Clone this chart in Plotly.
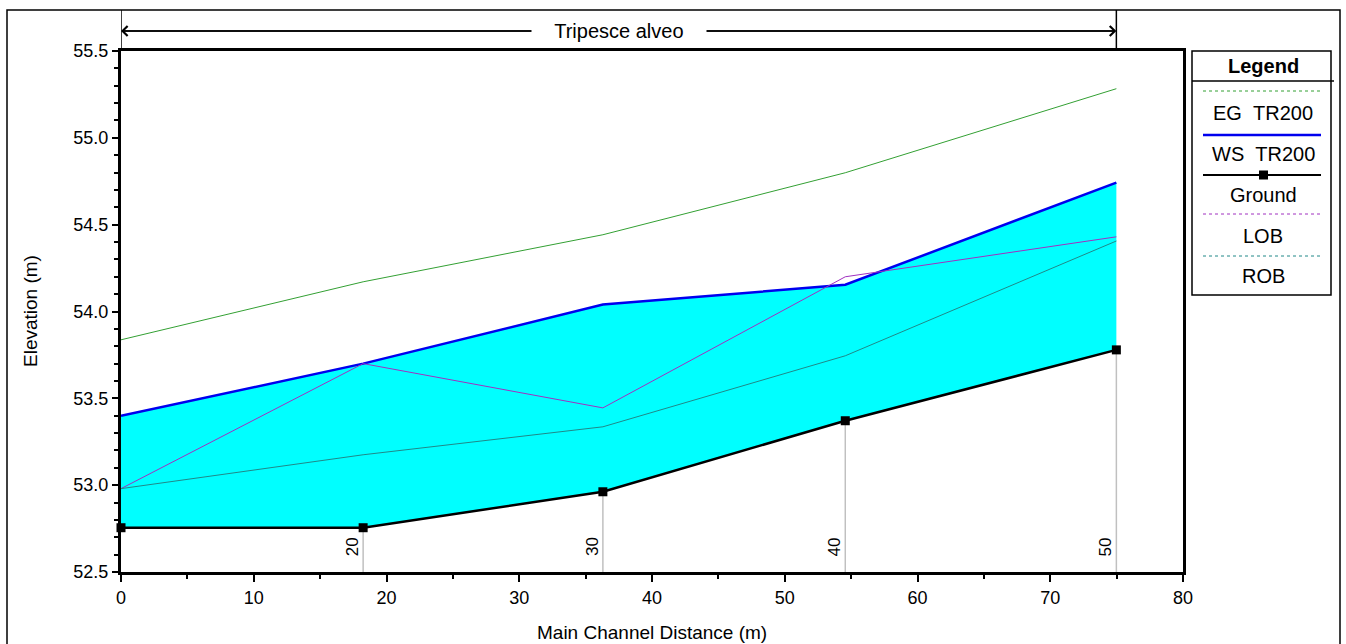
import plotly.graph_objects as go

# ---- data ----
dist = [0.0, 18.24, 36.3, 54.56, 74.98]
stations = ["10", "20", "30", "40", "50"]
ground = [52.755, 52.755, 52.962, 53.371, 53.779]
ws_tr200 = [53.399, 53.700, 54.040, 54.154, 54.742]
eg_tr200 = [53.837, 54.171, 54.442, 54.799, 55.283]
lob = [52.98, 53.70, 53.445, 54.20, 54.43]
rob = [52.98, 53.175, 53.336, 53.745, 54.406]
reach_name = "Tripesce alveo"

FONT = "Liberation Sans, Arial, sans-serif"
C_EG = "#33a033"
C_WS = "#0000ee"
C_LOB = "#a030c0"
C_ROB = "#208888"

L, T = 121, 51
PW, PH = 1062, 521
W, H = 1346, 644

fig = go.Figure()

fig.add_trace(go.Scatter(x=dist, y=ground, mode="lines", line=dict(width=0, color="black"),
                         showlegend=False, hoverinfo="skip"))
fig.add_trace(go.Scatter(x=dist, y=ws_tr200, mode="lines", fill="tonexty", fillcolor="#00ffff",
                         line=dict(color=C_WS, width=2.5), name="WS  TR200", showlegend=False))
for xv, g in zip(dist[1:], ground[1:]):
    fig.add_trace(go.Scatter(x=[xv, xv], y=[52.5, g], mode="lines",
                             line=dict(color="#c0c0c0", width=1.5), showlegend=False, hoverinfo="skip"))
fig.add_trace(go.Scatter(x=dist, y=eg_tr200, mode="lines", line=dict(color=C_EG, width=1),
                         name="EG  TR200", showlegend=False))
fig.add_trace(go.Scatter(x=dist, y=lob, mode="lines", line=dict(color=C_LOB, width=1),
                         name="LOB", showlegend=False))
fig.add_trace(go.Scatter(x=dist, y=rob, mode="lines", line=dict(color=C_ROB, width=1),
                         name="ROB", showlegend=False))
fig.add_trace(go.Scatter(x=dist, y=ground, mode="lines+markers",
                         line=dict(color="black", width=2.5),
                         marker=dict(symbol="square", size=9, color="black"),
                         name="Ground", showlegend=False, cliponaxis=False))

annotations = []
shapes = []


def px(xp):
    return (xp - L) / PW


def py(yp):
    return (T + PH - yp) / PH


# station labels (rotated)
for xv, s in zip(dist[1:], stations[1:]):
    annotations.append(dict(x=xv, y=52.58, xref="x", yref="y", text=s, textangle=-90,
                            showarrow=False, xanchor="right", yanchor="bottom", xshift=1,
                            font=dict(family=FONT, size=17, color="black")))

# reach arrow at top
Y_ARROW = py(31)
span_px = (dist[-1] - dist[0]) * PW / 80
annotations.append(dict(x=dist[0], y=Y_ARROW, xref="x", yref="paper", ax=span_px, ay=0,
                        axref="pixel", ayref="pixel", text="", showarrow=True,
                        arrowhead=4, arrowsize=1.3, arrowwidth=1.5, arrowcolor="black"))
annotations.append(dict(x=dist[-1], y=Y_ARROW, xref="x", yref="paper", ax=-span_px, ay=0,
                        axref="pixel", ayref="pixel", text="", showarrow=True,
                        arrowhead=4, arrowsize=1.3, arrowwidth=1.5, arrowcolor="black"))
annotations.append(dict(x=(dist[0] + dist[-1]) / 2, y=Y_ARROW, xref="x", yref="paper",
                        text="&nbsp;&nbsp;&nbsp;&nbsp;" + reach_name + "&nbsp;&nbsp;&nbsp;&nbsp;",
                        showarrow=False, bgcolor="white", borderpad=0,
                        font=dict(family=FONT, size=20, color="black"),
                        xanchor="center", yanchor="middle"))
for xv in (dist[0], dist[-1]):
    shapes.append(dict(type="line", xref="x", yref="paper", x0=xv, x1=xv,
                       y0=1.0, y1=py(10), line=dict(color="black", width=1.5)))

# outer border
shapes.append(dict(type="rect", xref="paper", yref="paper",
                   x0=px(7), x1=px(1340), y0=py(660), y1=py(10),
                   line=dict(color="black", width=1.5), layer="below"))

# axis titles
annotations.append(dict(x=px(30), y=py(311), xref="paper", yref="paper",
                        text="Elevation (m)", textangle=-90, showarrow=False,
                        xanchor="center", yanchor="middle",
                        font=dict(family=FONT, size=19, color="black")))
annotations.append(dict(x=px(652), y=py(632), xref="paper", yref="paper",
                        text="Main Channel Distance (m)", showarrow=False,
                        xanchor="center", yanchor="middle",
                        font=dict(family=FONT, size=19, color="black")))

# custom legend
shapes.append(dict(type="rect", xref="paper", yref="paper", x0=px(1192), x1=px(1331),
                   y0=py(295), y1=py(51), line=dict(color="black", width=1.5)))
shapes.append(dict(type="line", xref="paper", yref="paper", x0=px(1192), x1=px(1334),
                   y0=py(81), y1=py(81), line=dict(color="black", width=1.5)))
annotations.append(dict(x=px(1263), y=py(66), xref="paper", yref="paper", text="<b>Legend</b>",
                        showarrow=False, xanchor="center", yanchor="middle",
                        font=dict(family=FONT, size=20, color="black")))
legend_items = [
    ("EG&nbsp;&nbsp;TR200", C_EG, 1, "dot", 91, 113, False),
    ("WS&nbsp;&nbsp;TR200", C_WS, 2.5, "solid", 135, 154, False),
    ("Ground", "black", 2, "solid", 175, 195, True),
    ("LOB", C_LOB, 1, "dot", 214, 236, False),
    ("ROB", C_ROB, 1, "dot", 256, 276, False),
]
for name, col, w, dash, ly, ty, mk in legend_items:
    shapes.append(dict(type="line", xref="paper", yref="paper", x0=px(1203), x1=px(1321),
                       y0=py(ly), y1=py(ly), line=dict(color=col, width=w, dash=dash)))
    if mk:
        shapes.append(dict(type="rect", xref="paper", yref="paper", x0=px(1259), x1=px(1268),
                           y0=py(179.5), y1=py(170.5), fillcolor="black", line=dict(width=0)))
    annotations.append(dict(x=px(1263), y=py(ty), xref="paper", yref="paper", text=name,
                            showarrow=False, xanchor="center", yanchor="middle",
                            font=dict(family=FONT, size=20, color="black")))

fig.update_layout(
    width=W, height=H,
    margin=dict(l=L, r=W - L - PW, t=T, b=H - T - PH, pad=0),
    paper_bgcolor="white", plot_bgcolor="white",
    showlegend=False,
    font=dict(family=FONT, size=18, color="black"),
    shapes=shapes, annotations=annotations,
    xaxis=dict(range=[0, 80], dtick=10, tick0=0, ticks="outside", ticklen=7, tickwidth=1.5,
               tickcolor="black", showline=True, linecolor="black", linewidth=3, mirror=True,
               showgrid=False, zeroline=False,
               minor=dict(dtick=5, ticks="outside", ticklen=4, tickwidth=1.5, tickcolor="black"),
               tickfont=dict(family=FONT, size=18)),
    yaxis=dict(range=[52.5, 55.5], dtick=0.5, tick0=52.5, tickformat=".1f", ticks="outside",
               ticklen=6, tickwidth=1.5, tickcolor="black", showline=True, linecolor="black",
               linewidth=3, mirror=True, showgrid=False, zeroline=False,
               minor=dict(dtick=0.1, ticks="outside", ticklen=4, tickwidth=1.5, tickcolor="black"),
               tickfont=dict(family=FONT, size=18)),
)

fig.write_html("out.html", config={"displayModeBar": False},
               post_script="document.body.style.margin='0';document.body.style.overflow='hidden';")
